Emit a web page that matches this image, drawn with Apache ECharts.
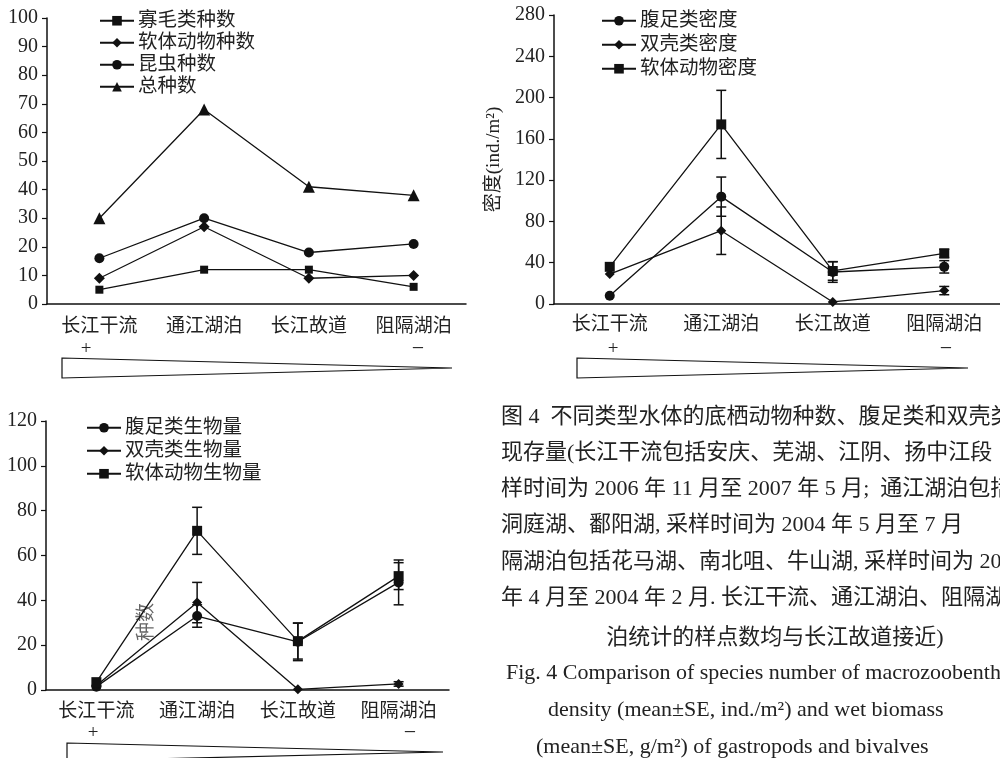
<!DOCTYPE html>
<html>
<head>
<meta charset="utf-8">
<script src="https://cdn.jsdelivr.net/npm/echarts@6/dist/echarts.min.js"></script>
<style>
  html, body { margin: 0; background: #fff; }
  #main { width: 1000px; height: 758px; }
</style>
</head>
<body>
<div id="main"></div>
<script>
// water body types
var categories = ['长江干流', '通江湖泊', '长江故道', '阻隔湖泊'];

// species number
var oligoCount = [5, 12, 12, 6];
var molluscCount = [9, 27, 9, 10];
var insectCount = [16, 30, 18, 21];
var totalCount = [30, 68, 41, 38];

// density (ind./m2), mean and SE
var gastroDensity = [8, 104, 31, 36];
var gastroDensitySE = [0, 19, 10, 6];
var bivalveDensity = [29, 71, 2, 13];
var bivalveDensitySE = [0, 23, 0, 4];
var molluscDensity = [36, 174, 32, 49];
var molluscDensitySE = [0, 33, 9, 4];

// biomass (g/m2), mean and SE
var gastroBiomass = [1.5, 33, 21.5, 48];
var gastroBiomassSE = [0, 5, 8.4, 10];
var bivalveBiomass = [2, 39, 0.3, 2.7];
var bivalveBiomassSE = [0, 9, 0, 1];
var molluscBiomass = [3.5, 71, 21.8, 50.8];
var molluscBiomassSE = [0, 10.5, 8, 6];

var FONT = "'Liberation Serif', 'Noto Sans CJK SC', serif";
var INK = '#111';

var myChart = echarts.init(document.getElementById('main'));

function xAx(idx, margin) {
  return {
    type: 'category', gridIndex: idx, data: categories, boundaryGap: true,
    axisLine: { lineStyle: { color: INK, width: 1.5 } },
    axisTick: { inside: true, length: 6, lineStyle: { color: INK, width: 1.2 } },
    axisLabel: { color: '#222', fontSize: 19, fontFamily: FONT, margin: margin }
  };
}
function yAx(idx, max, interval) {
  return {
    type: 'value', gridIndex: idx, min: 0, max: max, interval: interval,
    splitLine: { show: false },
    axisLine: { show: true, lineStyle: { color: INK, width: 1.5 } },
    axisTick: { show: true, length: 5, lineStyle: { color: INK, width: 1.2 } },
    axisLabel: { color: '#222', fontSize: 20, fontFamily: FONT, margin: 9 }
  };
}
function line(name, data, symbol, size, idx) {
  return {
    name: name, type: 'line', data: data, xAxisIndex: idx, yAxisIndex: idx,
    symbol: symbol, symbolSize: size, z: 3,
    itemStyle: { color: INK },
    lineStyle: { color: INK, width: 1.3 }
  };
}
function err(vals, se, idx) {
  var d = [];
  vals.forEach(function (v, i) { if (se[i] > 0) d.push([i, v - se[i], v + se[i]]); });
  return {
    type: 'custom', xAxisIndex: idx, yAxisIndex: idx, silent: true, z: 2,
    data: d, encode: { x: 0, y: [1, 2] },
    renderItem: function (params, api) {
      var lo = api.coord([api.value(0), api.value(1)]);
      var hi = api.coord([api.value(0), api.value(2)]);
      var w = 5, st = { stroke: INK, lineWidth: 1.5 };
      return { type: 'group', children: [
        { type: 'line', shape: { x1: hi[0], y1: hi[1], x2: lo[0], y2: lo[1] }, style: st },
        { type: 'line', shape: { x1: hi[0] - w, y1: hi[1], x2: hi[0] + w, y2: hi[1] }, style: st },
        { type: 'line', shape: { x1: lo[0] - w, y1: lo[1], x2: lo[0] + w, y2: lo[1] }, style: st }
      ] };
    }
  };
}
function legend(names, left, top, gap) {
  return {
    data: names, orient: 'vertical', left: left, top: top, padding: 0,
    itemWidth: 34, itemHeight: 12, itemGap: gap, selectedMode: false,
    textStyle: { color: '#222', fontSize: 19.5, fontFamily: FONT, padding: [0, 0, 0, -1] }
  };
}
function txt(s, x, y, size, align, color) {
  return { type: 'text', silent: true, style: {
    text: s, x: x, y: y, fill: color || '#222', fontSize: size, fontFamily: FONT,
    align: align || 'left', verticalAlign: 'middle' } };
}
function wedge(pts) {
  return { type: 'polygon', silent: true, shape: { points: pts },
    style: { fill: 'none', stroke: INK, lineWidth: 1.2 } };
}

var caption = [
  ['图 4  不同类型水体的底栖动物种数、腹足类和双壳类', 501, 417],
  ['现存量(长江干流包括安庆、芜湖、江阴、扬中江段', 501, 453],
  ['样时间为 2006 年 11 月至 2007 年 5 月;  通江湖泊包括', 501, 489],
  ['洞庭湖、鄱阳湖, 采样时间为 2004 年 5 月至 7 月', 501, 525],
  ['隔湖泊包括花马湖、南北咀、牛山湖, 采样时间为 2003', 501, 562],
  ['年 4 月至 2004 年 2 月. 长江干流、通江湖泊、阻隔湖', 501, 598]
];

var graphics = [
  txt('+', 86, 349, 19, 'center'), txt('−', 418, 349, 22, 'center'),
  wedge([[62, 358], [452, 368], [62, 378]]),
  txt('+', 613, 349, 19, 'center'), txt('−', 946, 349, 22, 'center'),
  wedge([[577, 358], [968, 368], [577, 378]]),
  txt('+', 93, 733, 19, 'center'), txt('−', 410, 733, 22, 'center'),
  wedge([[67, 743], [443, 752], [67, 761]]),
  { type: 'text', silent: true, x: 147, y: 622, rotation: Math.PI / 2,
    style: { text: '种数', fill: '#666', fontSize: 19, fontFamily: FONT,
      align: 'center', verticalAlign: 'middle' } },
  txt('泊统计的样点数均与长江故道接近)', 775, 638, 22, 'center'),
  txt('Fig. 4 Comparison of species number of macrozoobenthos,', 506, 673, 22),
  txt('density (mean±SE, ind./m²) and wet biomass', 548, 710, 22),
  txt('(mean±SE, g/m²) of gastropods and bivalves', 536, 747, 22)
];
caption.forEach(function (c) { graphics.push(txt(c[0], c[1], c[2], 22)); });

var option = {
  backgroundColor: '#fff',
  animation: false,
  grid: [
    { left: 47, top: 18, width: 419, height: 286 },
    { left: 554, top: 15, width: 453, height: 289 },
    { left: 46, top: 421, width: 403, height: 269 }
  ],
  xAxis: [xAx(0, 14), xAx(1, 12), xAx(2, 13)],
  yAxis: [
    yAx(0, 100, 10),
    Object.assign(yAx(1, 280, 40), {
      name: '密度(ind./m²)', nameLocation: 'middle', nameRotate: 90, nameGap: 50,
      nameTextStyle: { color: '#222', fontSize: 19, fontFamily: FONT }
    }),
    yAx(2, 120, 20)
  ],
  legend: [
    legend(['寡毛类种数', '软体动物种数', '昆虫种数', '总种数'], 99, 11, 2.5),
    legend(['腹足类密度', '双壳类密度', '软体动物密度'], 601, 11, 4.5),
    legend(['腹足类生物量', '双壳类生物量', '软体动物生物量'], 86, 418, 3.5)
  ],
  series: [
    line('寡毛类种数', oligoCount, 'rect', 8, 0),
    line('软体动物种数', molluscCount, 'diamond', 11, 0),
    line('昆虫种数', insectCount, 'circle', 10, 0),
    line('总种数', totalCount, 'triangle', 12, 0),

    err(gastroDensity, gastroDensitySE, 1),
    err(bivalveDensity, bivalveDensitySE, 1),
    err(molluscDensity, molluscDensitySE, 1),
    line('腹足类密度', gastroDensity, 'circle', 10, 1),
    line('双壳类密度', bivalveDensity, 'diamond', 10, 1),
    line('软体动物密度', molluscDensity, 'rect', 10, 1),

    err(gastroBiomass, gastroBiomassSE, 2),
    err(bivalveBiomass, bivalveBiomassSE, 2),
    err(molluscBiomass, molluscBiomassSE, 2),
    line('腹足类生物量', gastroBiomass, 'circle', 10, 2),
    line('双壳类生物量', bivalveBiomass, 'diamond', 10, 2),
    line('软体动物生物量', molluscBiomass, 'rect', 10, 2)
  ],
  graphic: graphics
};

myChart.setOption(option);
</script>
</body>
</html>
